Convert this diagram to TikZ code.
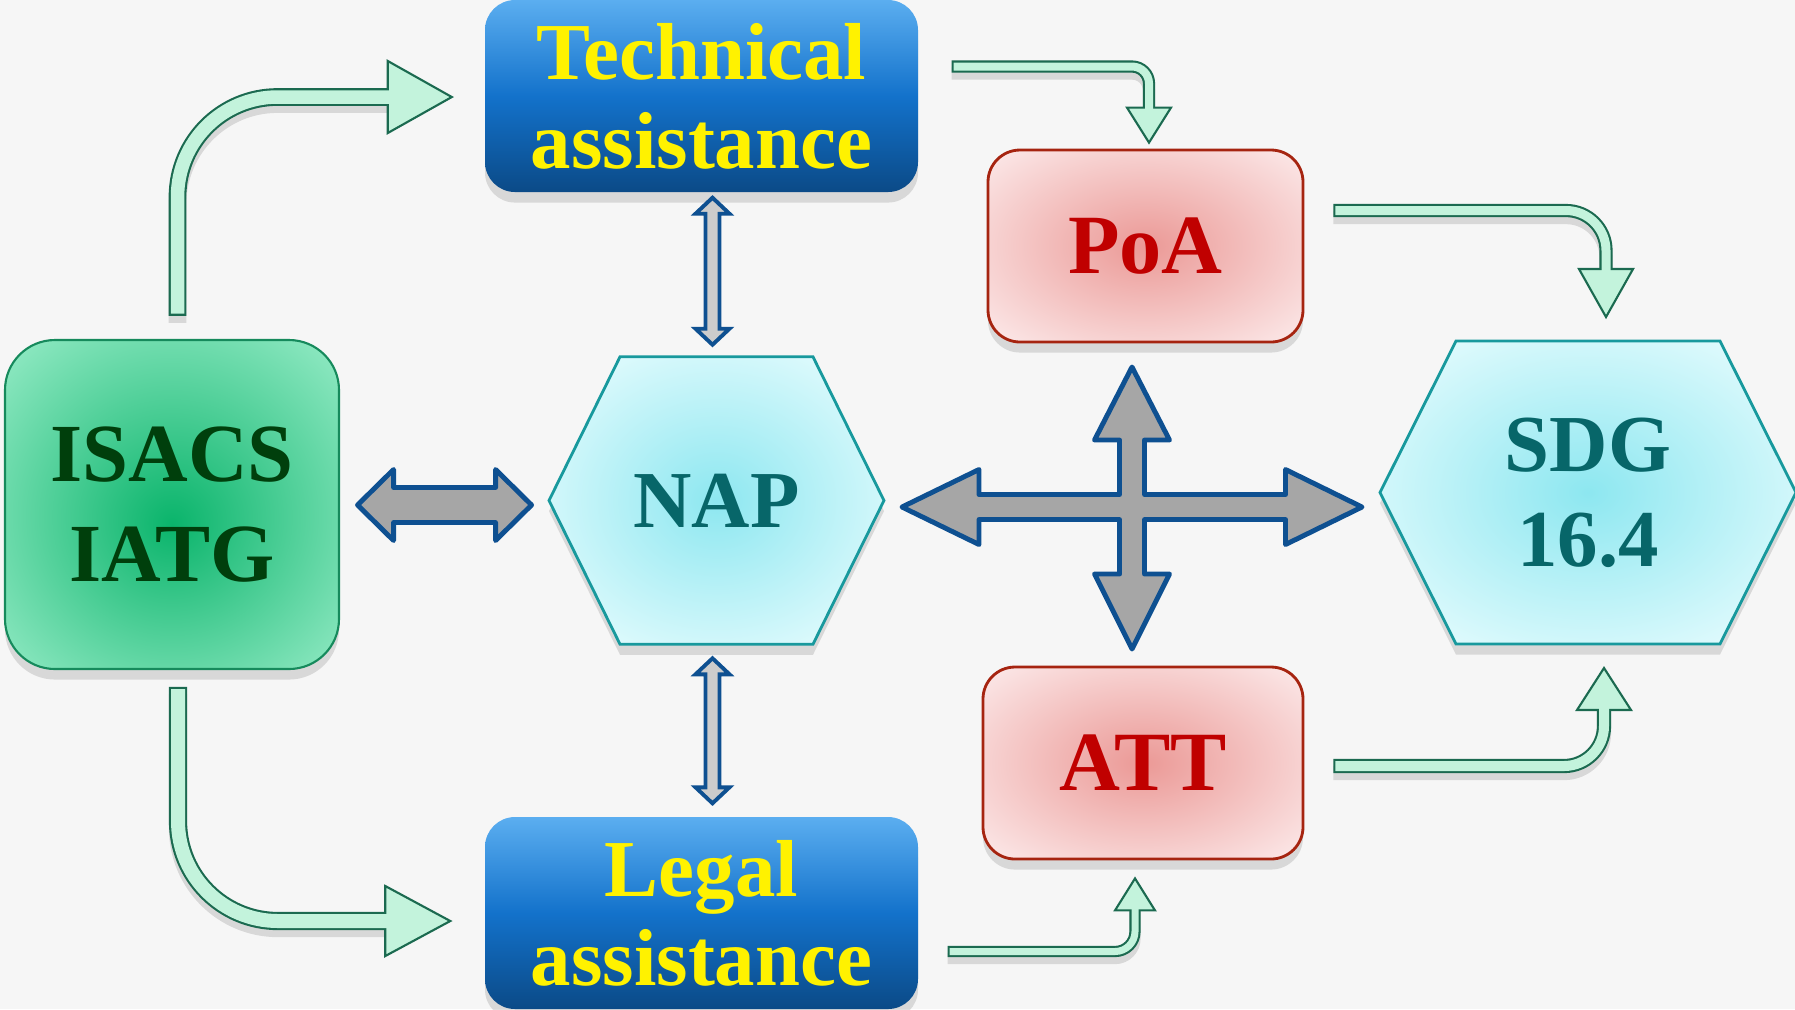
\documentclass[tikz,border=0pt]{standalone}
\usepackage{fontspec}
\setmainfont{Liberation Serif}
\usetikzlibrary{calc,shadows}

\definecolor{bgcol}{HTML}{F6F6F6}
\definecolor{techtop}{HTML}{5BAEF0}
\definecolor{techmid}{HTML}{1372CB}
\definecolor{techbot}{HTML}{0B4A87}
\definecolor{isacsin}{HTML}{0AB46B}
\definecolor{isacsout}{HTML}{95EBC6}
\definecolor{isacsline}{HTML}{168A5C}
\definecolor{isacsink}{HTML}{003F0C}
\definecolor{poain}{HTML}{EB9996}
\definecolor{poaout}{HTML}{FBE5E5}
\definecolor{poaline}{HTML}{A62410}
\definecolor{poaink}{HTML}{C00000}
\definecolor{hexin}{HTML}{8DE7F0}
\definecolor{hexout}{HTML}{E2FBFD}
\definecolor{hexline}{HTML}{18999D}
\definecolor{hexink}{HTML}{076669}
\definecolor{arrgray}{HTML}{A6A6A6}
\definecolor{arrblue}{HTML}{0E5091}
\definecolor{mint}{HTML}{C3F3DC}
\definecolor{mintline}{HTML}{1B6A50}

\pgfdeclareradialshading{isacsfill}{\pgfpoint{0bp}{-3bp}}{color(0bp)=(isacsin); color(36bp)=(isacsout); color(50bp)=(isacsout)}
\pgfdeclareradialshading{poafill}{\pgfpoint{0bp}{0bp}}{color(0bp)=(poain); color(33bp)=(poaout); color(50bp)=(poaout)}
\pgfdeclareradialshading{hexfill}{\pgfpoint{0bp}{0bp}}{color(0bp)=(hexin); color(31bp)=(hexout); color(50bp)=(hexout)}

\tikzset{
  assist/.style={rounded corners=0.3cm, minimum width=4.33cm, minimum height=1.92cm, inner sep=0pt,
    top color=techtop, bottom color=techbot, middle color=techmid, text=yellow, align=center,
    font=\bfseries\fontsize{23}{25.3}\selectfont,
    drop shadow={opacity=0.25, shadow xshift=0pt, shadow yshift=-3pt}},
  isacsbox/.style={rounded corners=0.5cm, minimum width=3.34cm, minimum height=3.29cm, inner sep=0pt,
    draw=isacsline, line width=0.6pt, shade, shading=isacsfill, text=isacsink,
    align=center, font=\bfseries\fontsize{23.5}{28.5}\selectfont,
    drop shadow={opacity=0.25, shadow xshift=0pt, shadow yshift=-3pt}},
  treaty/.style={rounded corners=0.32cm, minimum width=3.15cm, minimum height=1.92cm, inner sep=0pt,
    draw=poaline, line width=0.8pt, shade, shading=poafill, text=poaink,
    font=\bfseries\fontsize{24}{26}\selectfont,
    drop shadow={opacity=0.25, shadow xshift=0pt, shadow yshift=-3pt}},
  hexa/.style={draw=hexline, line width=0.8pt, shade, shading=hexfill,
    drop shadow={opacity=0.25, shadow xshift=0pt, shadow yshift=-3pt}},
  hexlabel/.style={text=hexink, align=center, inner sep=0pt, font=\bfseries\fontsize{23}{27}\selectfont},
  blockarr/.style={fill=arrgray, draw=arrblue, line width=1.4pt, line join=round},
  thinarr/.style={fill=gray!40, draw=arrblue, line width=1.1pt, line join=miter},
  bendshade/.style={draw=black, opacity=0.12, line cap=rect, line width=#1+1.2pt, transform canvas={yshift=-2pt}},
  bendout/.style={draw=mintline, line cap=rect, line width=#1+1.2pt},
  bendin/.style={draw=mint, line cap=rect, line width=#1},
  bendhead/.style={fill=mint, draw=mintline, line width=0.6pt, line join=miter}
}

\begin{document}
\begin{tikzpicture}

\fill[bgcol] (0,0) rectangle (17.95,-10.09);
\useasboundingbox (0,0) rectangle (17.95,-10.09);

% boxes
\node[assist] (tech) at (7.015,-0.96) {Technical\\assistance};
\node[assist] (legal) at (7.015,-9.13) {Legal\\assistance};
\node[isacsbox] (isacs) at (1.72,-5.045) {ISACS\\IATG};
\node[treaty] (poa) at (11.455,-2.46) {PoA};
\node[treaty, minimum width=3.2cm] (att) at (11.43,-7.63) {ATT};

% hexagons
\coordinate (napc) at (7.165,-5.005);
\draw[hexa] ($(napc)+(-1.675,0)$) -- ++(0.71,1.437) -- ++(1.93,0) -- ++(0.71,-1.437) -- ++(-0.71,-1.437) -- ++(-1.93,0) -- cycle;
\node[hexlabel] (nap) at (napc) {NAP};
\coordinate (sdgc) at (15.88,-4.925);
\draw[hexa] ($(sdgc)+(-2.08,0)$) -- ++(0.76,1.515) -- ++(2.64,0) -- ++(0.76,-1.515) -- ++(-0.76,-1.515) -- ++(-2.64,0) -- cycle;
\node[hexlabel] (sdg) at (sdgc) {SDG\\16.4};

% grey arrows
\coordinate (lnk) at ($(isacs.east)+(1.045,-0.005)$);
\draw[blockarr,shift={(lnk)}] (-0.87,0) -- (-0.51,0.355) -- (-0.51,0.175) -- (0.51,0.175) -- (0.51,0.355) -- (0.87,0) -- (0.51,-0.355) -- (0.51,-0.175) -- (-0.51,-0.175) -- (-0.51,-0.355) -- cycle;
\coordinate (hub) at (11.32,-5.07);
\draw[blockarr,shift={(hub)}] (-2.30,0) -- (-1.53,0.375) -- (-1.53,0.125) -- (-0.125,0.125) -- (-0.125,0.67) -- (-0.375,0.67) -- (0,1.40) -- (0.375,0.67) -- (0.125,0.67) -- (0.125,0.125) -- (1.535,0.125) -- (1.535,0.375) -- (2.30,0) -- (1.535,-0.375) -- (1.535,-0.125) -- (0.125,-0.125) -- (0.125,-0.67) -- (0.375,-0.67) -- (0,-1.42) -- (-0.375,-0.67) -- (-0.125,-0.67) -- (-0.125,-0.125) -- (-1.53,-0.125) -- (-1.53,-0.375) -- cycle;
\coordinate (up) at ($(tech.south)+(0.11,-0.785)$);
\draw[thinarr,shift={(up)}] (0,0.735) -- (0.17,0.575) -- (0.07,0.575) -- (0.07,-0.575) -- (0.17,-0.575) -- (0,-0.735) -- (-0.17,-0.575) -- (-0.07,-0.575) -- (-0.07,0.575) -- (-0.17,0.575) -- cycle;
\coordinate (down) at ($(legal.north)+(0.11,0.855)$);
\draw[thinarr,shift={(down)}] (0,0.725) -- (0.17,0.565) -- (0.07,0.565) -- (0.07,-0.565) -- (0.17,-0.565) -- (0,-0.725) -- (-0.17,-0.565) -- (-0.07,-0.565) -- (-0.07,0.565) -- (-0.17,0.565) -- cycle;

% bent arrows
\coordinate (a1s) at ($(isacs.north)+(0.055,0.32)$);
\coordinate (a1t) at ($(tech.west)+(-0.325,-0.01)$);
\coordinate (a1b) at ($(a1t)+(-0.64,0)$);
\draw[bendshade=0.135cm, rounded corners=1cm] (a1s) |- (a1b);
\draw[bendout=0.135cm, rounded corners=1cm] (a1s) |- (a1b);
\draw[bendhead] ($(a1b)+(0,0.36)$) -- (a1t) -- ($(a1b)+(0,-0.36)$) -- cycle;
\draw[bendin=0.135cm, rounded corners=1cm] (a1s) |- (a1b);

\coordinate (a2s) at ($(isacs.south)+(0.06,-0.26)$);
\coordinate (a2t) at ($(legal.west)+(-0.34,-0.08)$);
\coordinate (a2b) at ($(a2t)+(-0.65,0)$);
\draw[bendshade=0.14cm, rounded corners=1cm] (a2s) |- (a2b);
\draw[bendout=0.14cm, rounded corners=1cm] (a2s) |- (a2b);
\draw[bendhead] ($(a2b)+(0,0.35)$) -- (a2t) -- ($(a2b)+(0,-0.35)$) -- cycle;
\draw[bendin=0.14cm, rounded corners=1cm] (a2s) |- (a2b);

\coordinate (a3s) at ($(tech.east)+(0.39,0.295)$);
\coordinate (a3t) at ($(poa.north)+(0.035,0.06)$);
\coordinate (a3b) at ($(a3t)+(0,0.35)$);
\draw[bendshade=0.08cm, rounded corners=0.17cm] (a3s) -| (a3b);
\draw[bendout=0.08cm, rounded corners=0.17cm] (a3s) -| (a3b);
\draw[bendhead] ($(a3b)+(-0.22,0)$) -- (a3t) -- ($(a3b)+(0.22,0)$) -- cycle;
\draw[bendin=0.08cm, rounded corners=0.17cm] (a3s) -| (a3b);

\coordinate (a4s) at ($(poa.east)+(0.355,0.355)$);
\coordinate (a4t) at ($(sdgc)+(0.18,1.755)$);
\coordinate (a4b) at ($(a4t)+(0,0.48)$);
\draw[bendshade=0.09cm, rounded corners=0.4cm] (a4s) -| (a4b);
\draw[bendout=0.09cm, rounded corners=0.4cm] (a4s) -| (a4b);
\draw[bendhead] ($(a4b)+(-0.27,0)$) -- (a4t) -- ($(a4b)+(0.27,0)$) -- cycle;
\draw[bendin=0.09cm, rounded corners=0.4cm] (a4s) -| (a4b);

\coordinate (a5s) at ($(legal.east)+(0.345,-0.385)$);
\coordinate (a5t) at ($(att.south)+(-0.08,-0.18)$);
\coordinate (a5b) at ($(a5t)+(0,-0.32)$);
\draw[bendshade=0.07cm, rounded corners=0.2cm] (a5s) -| (a5b);
\draw[bendout=0.07cm, rounded corners=0.2cm] (a5s) -| (a5b);
\draw[bendhead] ($(a5b)+(-0.2,0)$) -- (a5t) -- ($(a5b)+(0.2,0)$) -- cycle;
\draw[bendin=0.07cm, rounded corners=0.2cm] (a5s) -| (a5b);

\coordinate (a6s) at ($(att.east)+(0.36,-0.03)$);
\coordinate (a6t) at ($(sdgc)+(0.16,-1.755)$);
\coordinate (a6b) at ($(a6t)+(0,-0.42)$);
\draw[bendshade=0.1cm, rounded corners=0.4cm] (a6s) -| (a6b);
\draw[bendout=0.1cm, rounded corners=0.4cm] (a6s) -| (a6b);
\draw[bendhead] ($(a6b)+(-0.27,0)$) -- (a6t) -- ($(a6b)+(0.27,0)$) -- cycle;
\draw[bendin=0.1cm, rounded corners=0.4cm] (a6s) -| (a6b);

\end{tikzpicture}
\end{document}
